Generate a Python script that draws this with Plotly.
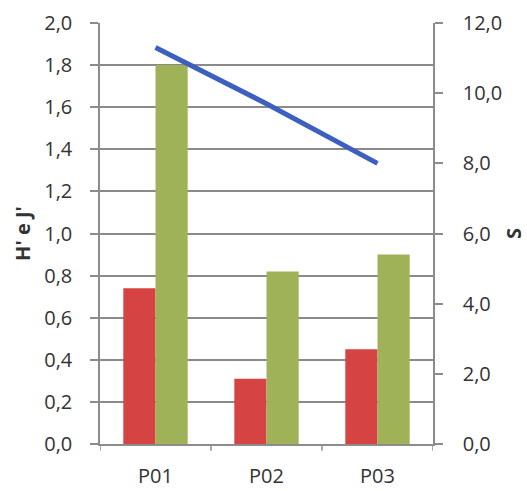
import plotly.graph_objects as go

# Sampling points
points = ["P01", "P02", "P03"]
# Shannon diversity (H') and Pielou evenness (J') — left axis
h_values = [0.74, 0.31, 0.45]
j_values = [1.80, 0.82, 0.90]
# Species richness (S) — right axis
s_values = [11.3, 9.7, 8.0]

left_ticks = [round(0.2 * i, 1) for i in range(11)]
right_ticks = [2.0 * i for i in range(7)]

font_family = "Open Sans, Liberation Sans, sans-serif"
text_color = "#333333"
axis_color = "#8c8c8c"
tick_size = 20

fig = go.Figure()
fig.add_trace(go.Bar(x=points, y=h_values, name="H'", marker=dict(color="#d64343", line=dict(width=0))))
fig.add_trace(go.Bar(x=points, y=j_values, name="J'", marker=dict(color="#9fb258", line=dict(width=0))))
fig.add_trace(go.Scatter(x=points, y=s_values, name="S", mode="lines", yaxis="y2",
                         line=dict(color="#3d5fc0", width=5)))

fig.update_layout(
    width=527, height=491,
    margin=dict(l=100, r=94, t=23, b=47),
    paper_bgcolor="white", plot_bgcolor="white",
    separators=",.",
    showlegend=False,
    barmode="group", bargap=0.42, bargroupgap=0,
    font=dict(family=font_family, size=tick_size, color=text_color),
    xaxis=dict(
        automargin=False,
        showgrid=False, showline=True, linecolor=axis_color, linewidth=1.5,
        ticks="", tickfont=dict(size=tick_size, color=text_color),
        ticklabelstandoff=13,
        range=[-0.5, 2.5],
    ),
    yaxis=dict(
        automargin=False,
        range=[0, 2.0], tickvals=left_ticks, tickformat=".1f",
        showgrid=True, gridcolor="#8a8a8a", gridwidth=1.5,
        showline=True, linecolor=axis_color, linewidth=1.5,
        ticks="outside", ticklen=8, tickcolor=axis_color, tickwidth=1.5,
        tickfont=dict(size=tick_size, color=text_color),
        ticklabelstandoff=14,
        title=dict(text="<b>H' e J'</b>", font=dict(size=tick_size, color=text_color), standoff=8),
        zeroline=False,
    ),
    yaxis2=dict(
        automargin=False,
        range=[0, 12.0], tickvals=right_ticks, tickformat=".1f",
        overlaying="y", side="right", showgrid=False,
        showline=True, linecolor=axis_color, linewidth=1.5,
        ticks="outside", ticklen=8, tickcolor=axis_color, tickwidth=1.5,
        tickfont=dict(size=tick_size, color=text_color),
        ticklabelstandoff=16,
        title=dict(text="<b>S</b>", font=dict(size=tick_size, color=text_color), standoff=10),
        zeroline=False,
    ),
)

# Category-boundary tick marks below the x axis
for i in range(4):
    fig.add_shape(type="line", xref="x", yref="paper",
                  x0=i - 0.5, x1=i - 0.5, y0=0, y1=-0.016,
                  line=dict(color=axis_color, width=1.5))

fig.write_html("out.html")
